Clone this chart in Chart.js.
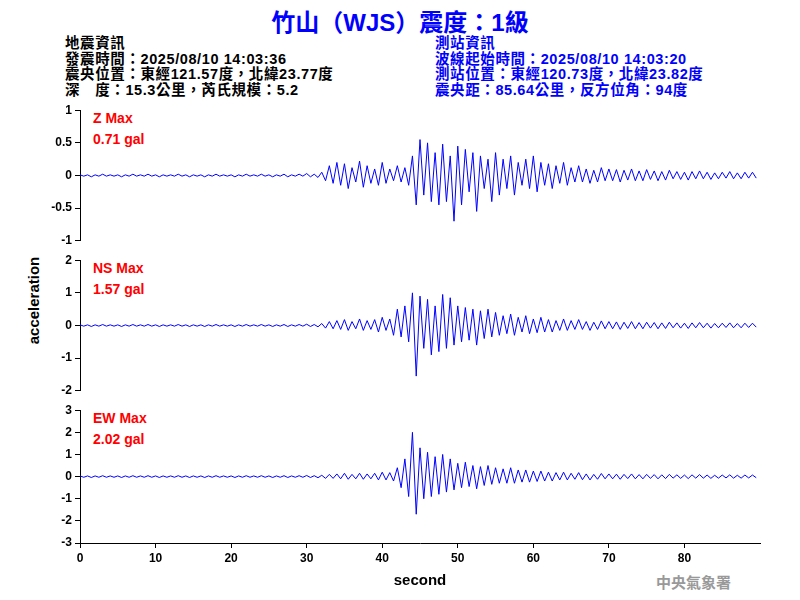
<!DOCTYPE html>
<html><head><meta charset="utf-8">
<script src="https://cdn.jsdelivr.net/npm/chart.js@4"></script>
<style>
body{margin:0;width:800px;height:600px;background:#fff;position:relative;overflow:hidden;font-family:"Liberation Sans",Arial,sans-serif}
.t{position:absolute;white-space:nowrap}
canvas{position:absolute}
#title{left:0;width:800px;text-align:center;top:3px;font-size:24px;font-weight:bold;color:#0000ff;font-family:"Liberation Sans","Noto Sans CJK TC",sans-serif}
.info{font-size:14.5px;line-height:15.5px;letter-spacing:0.6px;font-weight:bold;font-family:"Liberation Sans","Noto Sans CJK TC",sans-serif}
.mx{color:#ff0000;font-size:14px;font-weight:bold;line-height:21px}
</style></head><body>
<div id="title" class="t">竹山（WJS）震度：1級</div>
<div class="t info" style="left:65px;top:36px;color:#000">地震資訊<br>發震時間：2025/08/10 14:03:36<br>震央位置：東經121.57度，北緯23.77度<br>深　度：15.3公里，芮氏規模：5.2</div>
<div class="t info" style="left:435px;top:36px;color:#0000ff">測站資訊<br>波線起始時間：2025/08/10 14:03:20<br>測站位置：東經120.73度，北緯23.82度<br>震央距：85.64公里，反方位角：94度</div>
<div class="t mx" style="left:93px;top:108px">Z Max<br>0.71 gal</div>
<div class="t mx" style="left:93px;top:258px">NS Max<br>1.57 gal</div>
<div class="t mx" style="left:93px;top:408px">EW Max<br>2.02 gal</div>
<div class="t" style="left:-22px;top:292px;transform:rotate(-90deg);font-size:15px;font-weight:bold;width:110px;text-align:center">acceleration</div>
<div class="t" style="left:656px;top:571px;font-size:15px;font-weight:bold;color:#999;font-family:'Noto Sans CJK TC',serif">中央氣象署</div>
<canvas id="cz" width="770" height="151" style="left:0;top:100px"></canvas>
<canvas id="cn" width="770" height="151" style="left:0;top:250px"></canvas>
<canvas id="ce" width="770" height="194" style="left:0;top:400px"></canvas>
<script>
// samples every 0.5 s, t = 0 .. 89.5
const step = 0.5;
const zVals = [
 0.01,-0.01,0.01,-0.02,0.01,-0.01,0.02,-0.01,0.01,-0.01,0.01,-0.02,0.01,-0.01,0.02,-0.01,
 0.01,-0.01,0.02,-0.01,0.01,-0.02,0.01,-0.01,0.01,-0.01,0.02,-0.01,0.01,-0.02,0.01,-0.01,
 0.01,-0.02,0.01,-0.01,0.02,-0.01,0.01,-0.01,0.01,-0.02,0.01,-0.01,0.02,-0.01,0.01,-0.01,
 0.02,-0.01,0.01,-0.02,0.01,-0.01,0.02,-0.02,0.01,-0.01,0.02,-0.01,0.03,-0.02,0.02,-0.03,
 0.05,-0.08,0.15,-0.12,0.2,-0.15,0.18,-0.2,0.12,-0.1,0.22,-0.18,0.15,-0.12,0.1,-0.15,0.2,-0.12,0.1,-0.08,0.15,-0.1,0.12,-0.15,
 0.3,-0.45,0.55,-0.3,0.5,-0.4,0.35,-0.45,0.48,-0.4,0.3,-0.7,
 0.45,-0.45,0.4,-0.25,0.35,-0.55,0.3,-0.2,0.25,-0.4,0.35,-0.3,
 0.25,-0.2,0.3,-0.3,0.2,-0.15,0.25,-0.2,0.3,-0.25,0.2,-0.15,0.18,-0.2,0.15,-0.12,0.2,-0.15,
 0.12,-0.1,0.15,-0.1,0.1,-0.12,0.08,-0.1,0.12,-0.08,0.1,-0.08,0.09,-0.1,0.08,-0.07,0.1,-0.08,0.07,-0.08,
 0.09,-0.06,0.07,-0.08,0.06,-0.07,0.08,-0.05,0.06,-0.06,0.05,-0.07,0.06,-0.05,0.07,-0.05,0.05,-0.06,0.04,-0.05,
 0.05,-0.04,0.06,-0.05,0.04,-0.05,0.05,-0.04,0.05,-0.04
];
const nsVals = [
 0.02,-0.02,0.02,-0.03,0.02,-0.02,0.03,-0.02,0.02,-0.02,0.02,-0.03,0.02,-0.02,0.03,-0.02,
 0.02,-0.02,0.03,-0.02,0.02,-0.03,0.02,-0.02,0.02,-0.02,0.03,-0.02,0.02,-0.03,0.02,-0.02,
 0.02,-0.03,0.02,-0.02,0.03,-0.02,0.02,-0.02,0.02,-0.03,0.02,-0.02,0.03,-0.02,0.02,-0.02,
 0.03,-0.02,0.02,-0.03,0.02,-0.02,0.03,-0.03,0.02,-0.02,0.03,-0.02,0.04,-0.03,0.03,-0.04,
 0.06,-0.08,0.12,-0.1,0.15,-0.12,0.18,-0.15,0.12,-0.1,0.2,-0.15,0.15,-0.12,0.18,-0.2,0.25,-0.15,0.2,-0.3,0.5,-0.35,0.6,-0.5,
 1.0,-1.55,0.9,-0.7,0.8,-0.9,0.6,-0.8,0.95,-0.7,0.85,-0.6,
 0.6,-0.5,0.55,-0.45,0.5,-0.6,0.45,-0.4,0.5,-0.35,0.4,-0.3,
 0.3,-0.25,0.35,-0.3,0.25,-0.2,0.3,-0.25,0.2,-0.22,0.25,-0.2,0.18,-0.2,0.15,-0.15,0.2,-0.15,
 0.15,-0.12,0.18,-0.12,0.12,-0.15,0.1,-0.12,0.14,-0.1,0.12,-0.1,0.11,-0.12,0.1,-0.09,0.12,-0.1,0.09,-0.1,
 0.1,-0.08,0.09,-0.1,0.08,-0.09,0.1,-0.07,0.08,-0.08,0.07,-0.09,0.08,-0.07,0.09,-0.07,0.07,-0.08,0.06,-0.07,
 0.07,-0.06,0.08,-0.07,0.06,-0.07,0.07,-0.06,0.07,-0.05
];
const ewVals = [
 0.03,-0.03,0.03,-0.04,0.03,-0.03,0.04,-0.03,0.03,-0.03,0.03,-0.04,0.03,-0.03,0.04,-0.03,
 0.03,-0.03,0.04,-0.03,0.03,-0.04,0.03,-0.03,0.03,-0.03,0.04,-0.03,0.03,-0.04,0.03,-0.03,
 0.03,-0.04,0.03,-0.03,0.04,-0.03,0.03,-0.03,0.03,-0.04,0.03,-0.03,0.04,-0.03,0.03,-0.03,
 0.04,-0.03,0.03,-0.04,0.03,-0.03,0.04,-0.04,0.03,-0.03,0.04,-0.03,0.05,-0.04,0.04,-0.05,
 0.06,-0.08,0.1,-0.08,0.12,-0.1,0.15,-0.12,0.1,-0.1,0.15,-0.12,0.12,-0.1,0.15,-0.15,0.2,-0.15,0.18,-0.2,0.4,-0.5,0.8,-0.9,
 2.0,-1.7,1.3,-1.0,1.1,-0.9,0.9,-0.8,1.0,-0.7,0.8,-0.6,
 0.6,-0.5,0.65,-0.45,0.5,-0.55,0.45,-0.4,0.5,-0.35,0.4,-0.3,
 0.35,-0.3,0.4,-0.3,0.3,-0.25,0.3,-0.25,0.25,-0.22,0.25,-0.2,0.2,-0.2,0.18,-0.15,0.2,-0.15,
 0.15,-0.12,0.18,-0.14,0.12,-0.15,0.1,-0.12,0.14,-0.1,0.12,-0.1,0.11,-0.12,0.1,-0.09,0.12,-0.1,0.09,-0.1,
 0.1,-0.08,0.09,-0.1,0.08,-0.09,0.1,-0.07,0.08,-0.08,0.07,-0.09,0.08,-0.07,0.09,-0.07,0.07,-0.08,0.06,-0.07,
 0.07,-0.06,0.08,-0.07,0.06,-0.07,0.07,-0.06,0.07,-0.05
];
const xTicks = [0,10,20,30,40,50,60,70,80];
const xMax = 90;

const font = { family: "'Liberation Sans', Arial, sans-serif", size: 12, weight: 'bold' };

function makeChart(id, vals, lim, stepSize, showX) {
    const pts = vals.map((v, i) => ({ x: i * step, y: v }));
    const xScale = {
        type: 'linear', min: 0, max: xMax, display: showX,
        afterBuildTicks: s => { s.ticks = xTicks.map(v => ({ value: v })); },
        grid: { drawOnChartArea: false, tickLength: 5, color: '#000' },
        border: { color: '#000', width: 1 },
        ticks: { color: '#000', font: font, maxRotation: 0 },
        title: { display: true, text: 'second', color: '#000', font: { family: font.family, size: 15, weight: 'bold' }, padding: { top: 4 } }
    };
    if (showX) xScale.afterFit = s => { s.height = 51; };
    return new Chart(document.getElementById(id), {
        type: 'line',
        data: { datasets: [{ data: pts, borderColor: '#0000ff', borderWidth: 1, pointRadius: 0, tension: 0 }] },
        options: {
            responsive: false, animation: false,
            layout: { padding: { top: 8, right: 10, bottom: showX ? 0 : 8, left: 0 } },
            plugins: { legend: { display: false }, tooltip: { enabled: false } },
            scales: {
                x: xScale,
                y: {
                    min: -lim, max: lim,
                    afterFit: s => { s.width = 80; },
                    grid: { drawOnChartArea: false, tickLength: 5, color: '#000' },
                    border: { color: '#000', width: 1 },
                    ticks: { stepSize: stepSize, color: '#000', font: font, callback: v => String(v) }
                }
            }
        }
    });
}

makeChart('cz', zVals, 1, 0.5, false);
makeChart('cn', nsVals, 2, 1, false);
makeChart('ce', ewVals, 3, 1, true);
</script>
</body></html>
